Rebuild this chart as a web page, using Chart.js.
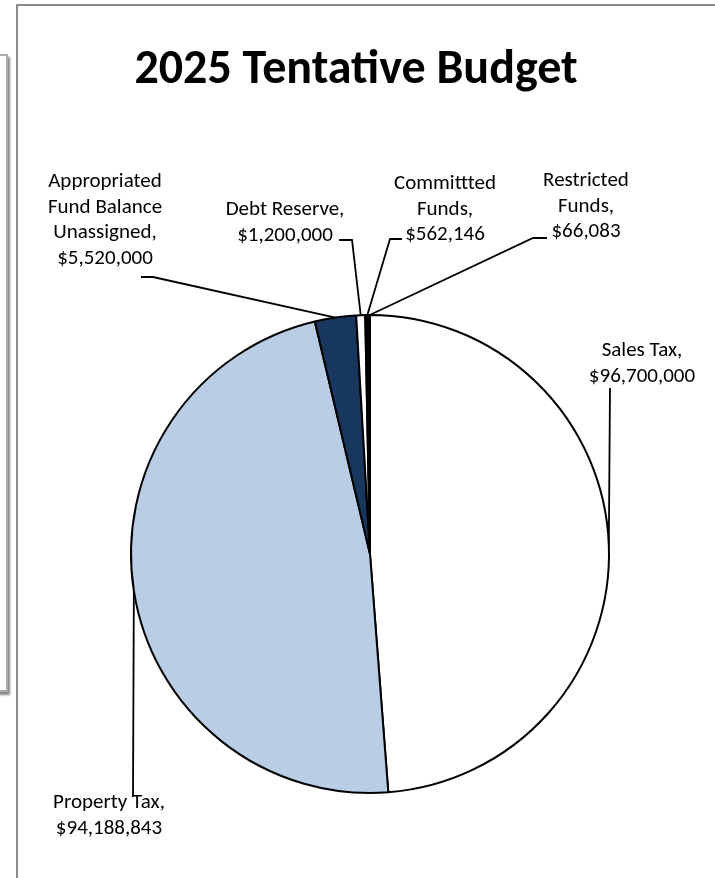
<!DOCTYPE html>
<html>
<head>
<meta charset="utf-8">
<title>2025 Tentative Budget</title>
<script src="https://cdn.jsdelivr.net/npm/chart.js@4/dist/chart.umd.min.js"></script>
<style>
  html, body { margin: 0; padding: 0; background: #fff; overflow: hidden; }
  body { width: 715px; height: 878px; position: relative; font-family: Carlito, Lato, sans-serif; }
  #backFrame {
    position: absolute; left: -20px; top: 54px; width: 24px; height: 634px;
    border: 2px solid #adadad; box-shadow: 2px 3px 2px #888;
  }
  #frame {
    position: absolute; left: 16px; top: 4px; width: 740px; height: 920px;
    border: 2px solid #8c8c8c; background: #fff;
  }
  #wrap { position: absolute; left: 0; top: 0; width: 715px; height: 878px; }
</style>
</head>
<body>
<div id="backFrame"></div>
<div id="frame"></div>
<div id="wrap"><canvas id="budgetChart" width="715" height="878"></canvas></div>
<script>
const title = "2025 Tentative Budget";

// slices, clockwise from 12 o'clock
const categories = [
  "Sales Tax",
  "Property Tax",
  "Appropriated Fund Balance Unassigned",
  "Debt Reserve",
  "Committted Funds",
  "Restricted Funds"
];
const amounts = [96700000, 94188843, 5520000, 1200000, 562146, 66083];
const sliceColors = ["#ffffff", "#b9cde5", "#17375e", "#ffffff", "#000000", "#ffffff"];

// how each label's name is broken over lines
const nameLines = [
  ["Sales Tax,"],
  ["Property Tax,"],
  ["Appropriated", "Fund Balance", "Unassigned,"],
  ["Debt Reserve,"],
  ["Committted", "Funds,"],
  ["Restricted", "Funds,"]
];

// label placement: text centre, first line y, and leader path up to the slice edge
const labelLayout = [
  { x: 642, y: 350, path: [[610, 388]] },
  { x: 109, y: 802, path: [[133, 797]] },
  { x: 105, y: 181, path: [[141, 277], [153, 277]] },
  { x: 285, y: 209, path: [[339, 240], [352, 240]] },
  { x: 445, y: 183, path: [[402, 239], [390, 239]] },
  { x: 586, y: 180, path: [[547, 238], [533, 238]] }
];
const lineGap = 25.5;

function money(v) {
  return "$" + v.toLocaleString("en-US");
}

const budgetLabels = {
  id: "budgetLabels",
  afterDraw(chart) {
    const ctx = chart.ctx;
    const arcs = chart.getDatasetMeta(0).data;
    ctx.save();

    // title
    ctx.fillStyle = "#000";
    ctx.font = "bold 48px Carlito, Lato, sans-serif";
    ctx.textAlign = "center";
    ctx.textBaseline = "middle";
    ctx.fillText(title, 356, 71);

    ctx.font = "21px Carlito, Lato, sans-serif";
    ctx.strokeStyle = "#000";
    ctx.lineWidth = 1.8;

    arcs.forEach((arc, i) => {
      const p = arc.getProps(["x", "y", "startAngle", "endAngle", "outerRadius"], true);
      const mid = (p.startAngle + p.endAngle) / 2;
      const ex = p.x + Math.cos(mid) * p.outerRadius;
      const ey = p.y + Math.sin(mid) * p.outerRadius;
      const lay = labelLayout[i];

      ctx.beginPath();
      ctx.moveTo(lay.path[0][0], lay.path[0][1]);
      for (let k = 1; k < lay.path.length; k++) ctx.lineTo(lay.path[k][0], lay.path[k][1]);
      ctx.lineTo(ex, ey);
      ctx.stroke();

      const lines = nameLines[i].concat([money(amounts[i])]);
      lines.forEach((t, k) => {
        ctx.fillText(t, lay.x, lay.y + k * lineGap + 1);
      });
    });
    ctx.restore();
  }
};

new Chart(document.getElementById("budgetChart"), {
  type: "pie",
  data: {
    labels: categories,
    datasets: [{
      data: amounts,
      backgroundColor: sliceColors,
      borderColor: "#000",
      borderWidth: 2
    }]
  },
  options: {
    responsive: false,
    animation: false,
    events: [],
    layout: { padding: { left: 130, right: 105, top: 314, bottom: 84 } },
    plugins: {
      legend: { display: false },
      tooltip: { enabled: false },
      title: { display: false }
    }
  },
  plugins: [budgetLabels]
});
</script>
</body>
</html>
